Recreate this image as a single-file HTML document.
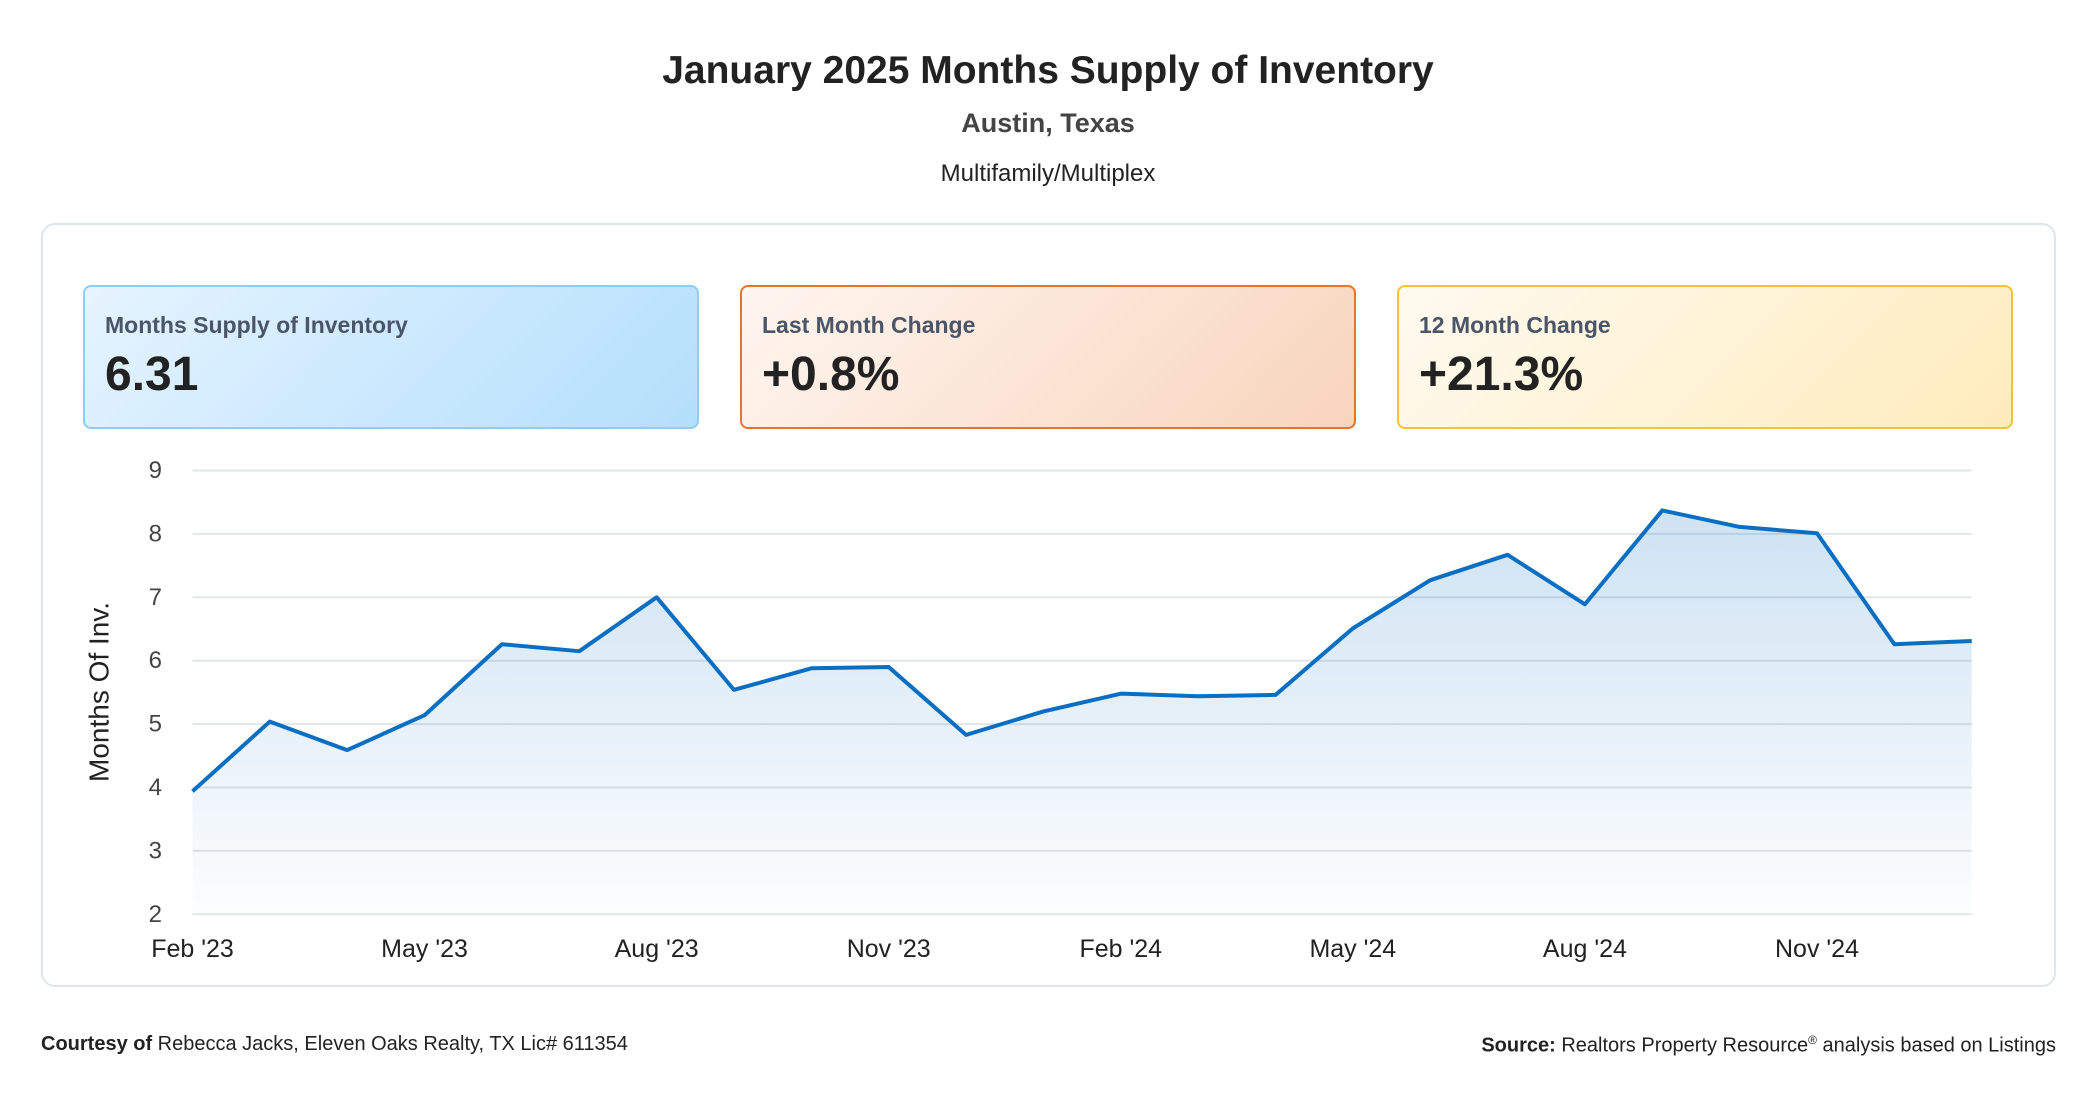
<!DOCTYPE html>
<html><head><meta charset="utf-8">
<style>
*{margin:0;padding:0;box-sizing:border-box}
body{width:2096px;height:1100px;background:#fff;font-family:"Liberation Sans",sans-serif;position:relative;overflow:hidden;color:#222}
.abs{position:absolute}
.title{left:0;width:2096px;text-align:center;top:49px;font-size:39px;font-weight:bold;color:#222}
.sub{left:0;width:2096px;text-align:center;top:108px;font-size:27px;font-weight:bold;color:#444}
.sub2{left:0;width:2096px;text-align:center;top:160px;font-size:24px;color:#222}
.card{left:41px;top:223px;width:2015px;height:764px;border:2px solid #dfe5ee;border-radius:14px;background:#fff}
.kpi{top:285px;height:144px;width:616px;border:2px solid;border-radius:8px}
.kpi .lab{position:absolute;left:20px;top:25px;font-size:23px;font-weight:bold;color:#4a5568}
.kpi .val{position:absolute;left:20px;top:60px;font-size:48px;font-weight:bold;color:#222}
.foot{top:1033px;font-size:20px;color:#222}
</style></head><body>
<div class="abs title">January 2025 Months Supply of Inventory</div>
<div class="abs sub">Austin, Texas</div>
<div class="abs sub2">Multifamily/Multiplex</div>
<div class="abs card"></div>
<div class="abs kpi" style="left:83px;border-color:#90cdf4;background:linear-gradient(135deg,#e6f4ff,#b3dffc)">
<div class="lab">Months Supply of Inventory</div><div class="val">6.31</div></div>
<div class="abs kpi" style="left:740px;border-color:#e8742c;background:linear-gradient(135deg,#fff6f0,#f8d4bc)">
<div class="lab">Last Month Change</div><div class="val">+0.8%</div></div>
<div class="abs kpi" style="left:1397px;border-color:#f4c430;background:linear-gradient(135deg,#fffaf0,#ffecbc)">
<div class="lab">12 Month Change</div><div class="val">+21.3%</div></div>
<svg class="abs" style="left:0;top:0" width="2096" height="1100" id="chart">
<defs><linearGradient id="fillg" x1="0" y1="0" x2="0" y2="1">
<stop offset="0" stop-color="#0a6fc2" stop-opacity="0.2"/><stop offset="1" stop-color="#0a6fc2" stop-opacity="0.01"/></linearGradient></defs>
<text x="99" y="692" transform="rotate(-90 99 692)" text-anchor="middle" dominant-baseline="central" font-size="28" fill="#222" font-family="Liberation Sans, sans-serif">Months Of Inv.</text>
</svg>
<div class="abs foot" style="left:41px"><b>Courtesy of</b> Rebecca Jacks, Eleven Oaks Realty, TX Lic# 611354</div>
<div class="abs foot" style="right:40px"><b>Source:</b> Realtors Property Resource<sup style="font-size:12px">®</sup> analysis based on Listings</div>
<script>
const categories=["Feb '23","Mar '23","Apr '23","May '23","Jun '23","Jul '23","Aug '23","Sep '23","Oct '23","Nov '23","Dec '23","Jan '24","Feb '24","Mar '24","Apr '24","May '24","Jun '24","Jul '24","Aug '24","Sep '24","Oct '24","Nov '24","Dec '24","Jan '25"];
const values=[3.94,5.04,4.59,5.14,6.26,6.15,7.0,5.54,5.88,5.9,4.83,5.2,5.48,5.44,5.46,6.51,7.27,7.67,6.89,8.37,8.11,8.01,6.26,6.31];
const yTicks=[2,3,4,5,6,7,8,9];
const xTickIdx=[0,3,6,9,12,15,18,21];
const svg=document.getElementById('chart');
const NS='http://www.w3.org/2000/svg';
const X0=192.5,X1=1971.7,Y0=914.3,Y1=470.5,YMIN=2,YMAX=9;
const xs=i=>X0+(X1-X0)*i/(categories.length-1);
const ys=v=>Y0-(v-YMIN)/(YMAX-YMIN)*(Y0-Y1);
function mk(t,a){const e=document.createElementNS(NS,t);for(const k in a)e.setAttribute(k,a[k]);svg.appendChild(e);return e;}
yTicks.forEach(v=>{
 const l=mk('line',{x1:X0,x2:X1,y1:ys(v),y2:ys(v),stroke:'#e2e5ea','stroke-width':2});
 
 
 const t=mk('text',{x:162,y:ys(v),'text-anchor':'end','dominant-baseline':'central','font-size':24,fill:'#444','font-family':'Liberation Sans, sans-serif'});
 t.textContent=v;
 
 
});
let pts=values.map((v,i)=>xs(i)+','+ys(v)).join(' ');
const area=mk('polygon',{points:pts+' '+xs(values.length-1)+','+Y0+' '+X0+','+Y0,fill:'url(#fillg)'});


const line=mk('polyline',{points:pts,fill:'none',stroke:'#0a6fc2','stroke-width':4,'stroke-linejoin':'round'});


xTickIdx.forEach(i=>{
 const t=mk('text',{x:xs(i),y:949,'text-anchor':'middle','dominant-baseline':'central','font-size':25,fill:'#222','font-family':'Liberation Sans, sans-serif'});
 t.textContent=categories[i];
 
 
});
</script>
</body></html>
